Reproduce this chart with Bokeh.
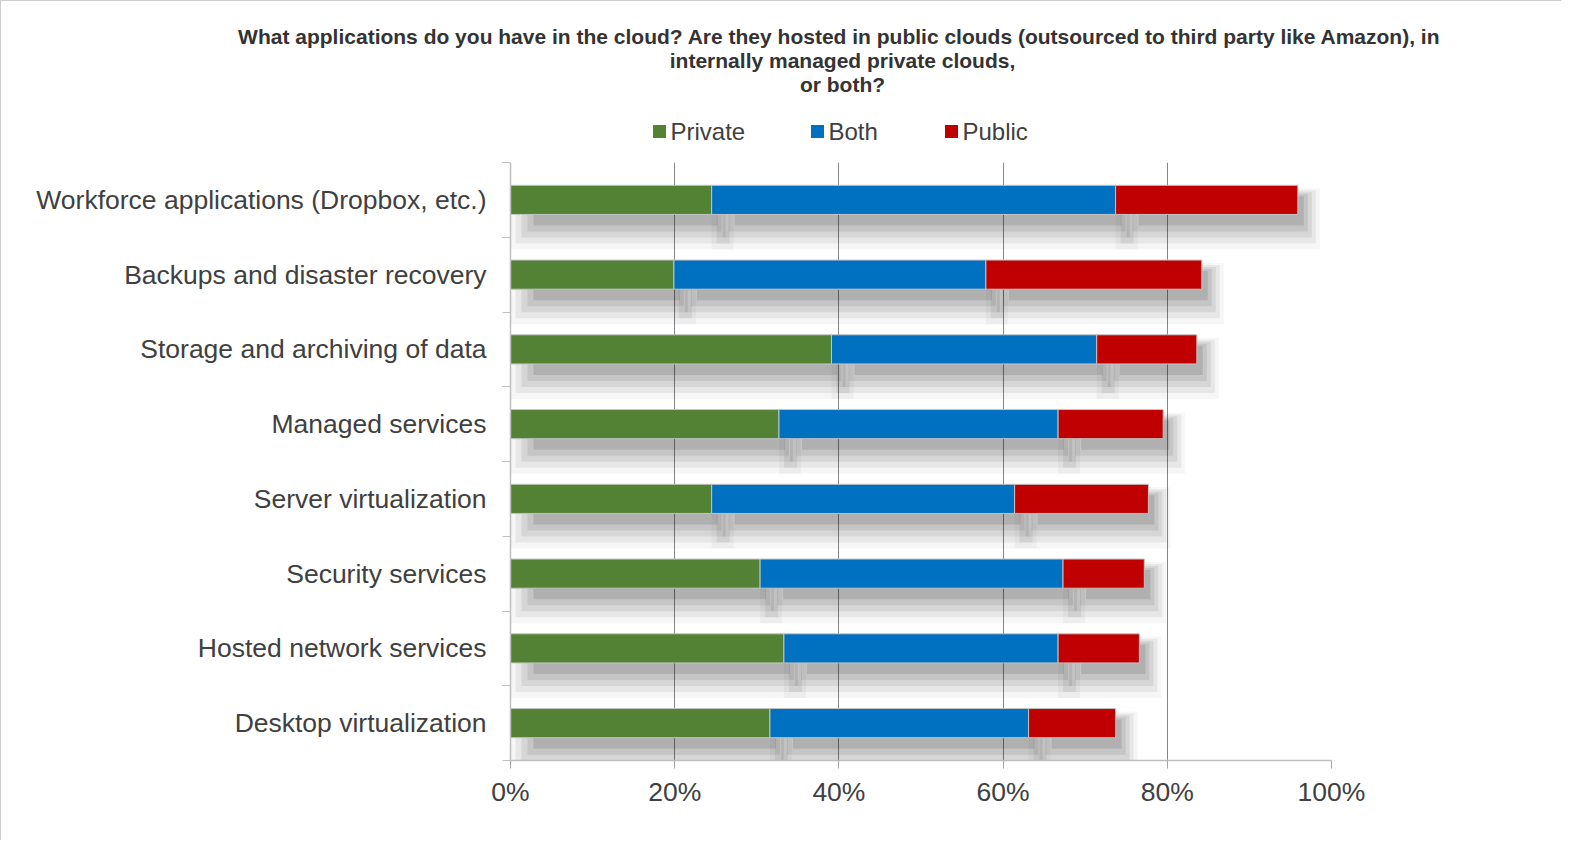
from bokeh.plotting import figure
from bokeh.models import (Range1d, FixedTicker, PrintfTickFormatter, Grid)
from bokeh.layouts import column
from bokeh.core.properties import value
from bokeh.embed import file_html
from bokeh.resources import INLINE
import numpy as np

# ---------------- data ----------------
categories = [
    "Workforce applications (Dropbox, etc.)",
    "Backups and disaster recovery",
    "Storage and archiving of data",
    "Managed services",
    "Server virtualization",
    "Security services",
    "Hosted network services",
    "Desktop virtualization",
]
private = [24.5, 19.9, 39.1, 32.7, 24.5, 30.4, 33.3, 31.6]
both = [49.2, 38.0, 32.3, 34.0, 36.9, 36.9, 33.4, 31.5]
public = [22.2, 26.3, 12.2, 12.8, 16.3, 9.9, 9.9, 10.6]
series_names = ["Private", "Both", "Public"]
x_ticks = [0, 20, 40, 60, 80, 100]
title_lines = [
    "What applications do you have in the cloud? Are they hosted in public clouds (outsourced to third party like Amazon),  in",
    "internally managed private clouds,",
    "or both?",
]

# ---------------- style / layout ----------------
colors = ["#548235", "#0070C0", "#C00000"]
FONT = "Liberation Sans"
TXT = "#404040"
FRAME_W, FRAME_H = 821, 598
BORDER_L, BORDER_R, BORDER_B = 509, 230, 80
TOTAL_W = BORDER_L + FRAME_W + BORDER_R
HEAD_H = 161
n = len(categories)
PX_X = FRAME_W / 100.0
PX_Y = FRAME_H / float(n)
BAR_H = 0.39
TITLE_CX, TITLE_Y0, TITLE_DY = 842, 36, 24
LEG_Y = 131
LEG_SWATCH_X = [659, 817, 951]
LEG_TEXT_X = [670, 828, 962]

# ---------------- header (title + legend) ----------------
head = figure(x_range=Range1d(1, 1 + TOTAL_W), y_range=Range1d(1 + HEAD_H, 1),
              frame_width=TOTAL_W, frame_height=HEAD_H,
              min_border_left=0, min_border_right=0, min_border_top=0, min_border_bottom=0,
              x_axis_type=None, y_axis_type=None, output_backend="svg",
              toolbar_location=None, outline_line_color=None,
              background_fill_color="white", border_fill_color="white")
head.frame_align = False
head.xgrid.visible = False
head.ygrid.visible = False
head.text(x=[TITLE_CX] * len(title_lines),
          y=[TITLE_Y0 + TITLE_DY * j for j in range(len(title_lines))],
          text=title_lines, text_align="center", text_baseline="middle",
          text_font=value(FONT), text_font_size="21px", text_font_style="bold",
          text_color="#333333")
head.scatter(x=LEG_SWATCH_X, y=[LEG_Y] * 3, marker="square", size=13,
             fill_color=colors, line_color=None)
head.text(x=LEG_TEXT_X, y=[LEG_Y] * 3, text=series_names,
          text_align="left", text_baseline="middle",
          text_font=value(FONT), text_font_size="24px", text_color=TXT)

# ---------------- main chart ----------------
p = figure(x_range=Range1d(0, 100), y_range=Range1d(0, n),
           frame_width=FRAME_W, frame_height=FRAME_H,
           min_border_left=BORDER_L, min_border_right=BORDER_R,
           min_border_top=0, min_border_bottom=BORDER_B,
           output_backend="svg", toolbar_location=None,
           outline_line_color=None, background_fill_color="white",
           border_fill_color="white")
p.frame_align = False

yc = np.array([n - 0.5 - i for i in range(n)])
series = [np.array(private), np.array(both), np.array(public)]
cum = np.cumsum(np.vstack(series), axis=0)
lefts = [np.zeros(n), cum[0], cum[1]]
rights = [cum[0], cum[1], cum[2]]

# soft drop shadow (nested translucent layers), offsets in pixels
layers = [  # left_off, right_off, top_off(down), bottom_off(down), alpha
    (0, 22, 3, 35, 0.035),
    (5, 18, 5, 29, 0.06),
    (11, 14, 7, 23, 0.07),
    (17, 10, 9, 17, 0.08),
    (23, 6, 11, 11, 0.10),
]
for lo, ro, to, bo, a in layers:
    L = np.concatenate([l + lo / PX_X for l in lefts])
    R = np.concatenate([r + ro / PX_X for r in rights])
    T = np.concatenate([yc + BAR_H / 2 - to / PX_Y] * 3)
    B = np.concatenate([yc - BAR_H / 2 - bo / PX_Y] * 3)
    p.hbar(y=(T + B) / 2, height=T - B, left=L, right=R,
           fill_color="black", fill_alpha=a, line_color=None)

for k in range(3):
    p.hbar(y=yc, height=BAR_H, left=lefts[k], right=rights[k],
           fill_color=colors[k], line_color="#c4c4c4", line_width=1)

# axes
xa = p.xaxis[0]
xa.ticker = FixedTicker(ticks=x_ticks)
xa.formatter = PrintfTickFormatter(format="%d%%")
xa.axis_line_color = "#bfbfbf"
xa.axis_line_width = 1.5
xa.major_tick_line_color = "#a6a6a6"
xa.major_tick_out = 8
xa.major_tick_in = 0
xa.minor_tick_line_color = None
xa.major_label_text_font = FONT
xa.major_label_text_font_size = "26.5px"
xa.major_label_text_color = TXT
xa.major_label_standoff = 8

ya = p.yaxis[0]
ya.ticker = FixedTicker(ticks=list(yc), minor_ticks=list(range(n + 1)))
overrides = {}
for i, c in enumerate(categories):
    overrides[float(yc[i])] = c
    overrides[str(float(yc[i]))] = c
ya.major_label_overrides = overrides
ya.axis_line_color = "#bfbfbf"
ya.axis_line_width = 1.5
ya.major_tick_line_color = None
ya.major_tick_out = 0
ya.major_tick_in = 0
ya.minor_tick_line_color = "#bfbfbf"
ya.minor_tick_out = 8
ya.minor_tick_in = 0
ya.major_label_text_font = FONT
ya.major_label_text_font_size = "26.5px"
ya.major_label_text_color = TXT
ya.major_label_standoff = 16

p.ygrid.visible = False
p.xgrid.ticker = FixedTicker(ticks=x_ticks[1:-1])
p.xgrid.grid_line_color = "#868686"
p.xgrid.grid_line_width = 1
p.add_layout(Grid(dimension=0, ticker=FixedTicker(ticks=[x_ticks[-1]]),
                  grid_line_color="#bfbfbf", grid_line_width=1.5))

layout = column(head, p, spacing=0,
                styles={"border-left": "1px solid #cfcfcf", "border-top": "1px solid #cfcfcf"})

open("out.html", "w").write(file_html(layout, INLINE))
